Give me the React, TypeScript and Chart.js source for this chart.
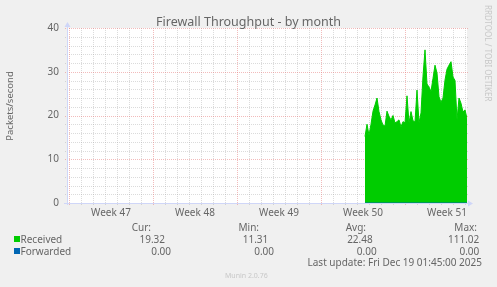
import React, { useEffect, useRef } from 'react';
import { Chart, registerables } from 'chart.js';

Chart.register(...registerables);

// ---- data ----
const chartTitle = 'Firewall Throughput - by month';
const yAxisTitle = 'Packets/second';
const watermark = 'RRDTOOL / TOBI OETIKER';
const lastUpdate = 'Last update: Fri Dec 19 01:45:00 2025';
const muninVersion = 'Munin 2.0.76';

const weekLabels = ['Week 47', 'Week 48', 'Week 49', 'Week 50', 'Week 51'];
const weekStartDays = [0, 7, 14, 21, 28];
const yTickValues = [0, 10, 20, 30, 40];

// samples every 4 hours, starting at day 24.667 of the window
const sampleStartDay = 24.667;
const sampleStepDays = 1 / 6;
const receivedValues = [
  15.2, 18.0, 15.5, 18.0, 21.0, 22.4, 24.0, 20.9, 19.0, 17.8,
  17.6, 21.0, 19.8, 19.0, 20.0, 18.3, 18.6, 19.0, 17.4, 18.6,
  18.3, 24.5, 18.3, 20.9, 18.8, 18.5, 25.8, 18.3, 20.6, 29.0,
  35.0, 27.2, 26.5, 25.5, 28.5, 31.5, 29.7, 24.3, 23.0, 24.0,
  28.1, 30.6, 31.5, 32.3, 28.8, 28.0, 19.0, 24.0, 22.8, 20.8,
  21.3, 19.3,
];
const forwardedValues = [
  0, 0, 0, 0, 0, 0, 0, 0, 0, 0,
  0, 0, 0, 0, 0, 0, 0, 0, 0, 0,
  0, 0, 0, 0, 0, 0, 0, 0, 0, 0,
  0, 0, 0, 0, 0, 0, 0, 0, 0, 0,
  0, 0, 0, 0, 0, 0, 0, 0, 0, 0,
  0, 0,
];

const seriesNames = ['Received', 'Forwarded'];
const seriesColors = ['#00cc00', '#0066b3'];
const curValues = ['19.32', '0.00'];
const minValues = ['11.31', '0.00'];
const avgValues = ['22.48', '0.00'];
const maxValues = ['111.02', '0.00'];
const statHeaders = ['Cur:', 'Min:', 'Avg:', 'Max:'];

// ---- layout / style ----
const W = 497;
const H = 287;
const FONT = '"Noto Sans", "DejaVu Sans", sans-serif';
const TEXT = '#666666';
const X_MIN = -1 / 6;
const X_MAX = 33 + 1 / 6;

const headerRight = [151, 259, 366, 477];
const rowRight = [
  [165, 268.3, 372.7, 479.3],
  [171, 274, 376.7, 479.3],
];

const muninPlugin = {
  id: 'munin',
  beforeDraw(chart: any) {
    const { ctx, chartArea } = chart;
    const { left, right, top, bottom } = chartArea;
    const xs = chart.scales.x;
    const ys = chart.scales.y;
    ctx.save();
    ctx.fillStyle = '#f0f0f0';
    ctx.fillRect(0, 0, chart.width, chart.height);
    ctx.fillStyle = '#ffffff';
    ctx.fillRect(left, top, right - left, bottom - top);

    ctx.lineWidth = 1;
    ctx.setLineDash([1, 1]);
    const minor = 'rgba(160,160,160,0.38)';
    // horizontal grid (every 2, major every 10)
    for (let v = 0; v <= 40; v += 2) {
      if (v % 10 === 0) continue;
      const y = Math.round(ys.getPixelForValue(v)) + 0.5;
      ctx.strokeStyle = minor;
      ctx.beginPath();
      ctx.moveTo(left - 2, y);
      ctx.lineTo(right + 1, y);
      ctx.stroke();
    }
    // vertical minor grid (every day)
    for (let d = 0; d <= 33; d++) {
      if (d % 7 === 0) continue;
      const x = Math.round(xs.getPixelForValue(d)) + 0.5;
      ctx.strokeStyle = minor;
      ctx.beginPath();
      ctx.moveTo(x, top);
      ctx.lineTo(x, bottom + 2);
      ctx.stroke();
    }
    // major grid
    ctx.strokeStyle = 'rgba(230,120,120,0.5)';
    for (const v of yTickValues) {
      const y = Math.round(ys.getPixelForValue(v)) + 0.5;
      ctx.beginPath();
      ctx.moveTo(left - 2, y);
      ctx.lineTo(right + 1, y);
      ctx.stroke();
    }
    for (const d of weekStartDays) {
      const x = Math.round(xs.getPixelForValue(d)) + 0.5;
      ctx.beginPath();
      ctx.moveTo(x, top);
      ctx.lineTo(x, bottom + 2);
      ctx.stroke();
    }
    ctx.restore();
  },
  afterDatasetsDraw(chart: any) {
    const { ctx, chartArea } = chart;
    const { left, right, top, bottom } = chartArea;
    ctx.save();
    ctx.setLineDash([]);
    ctx.strokeStyle = '#cfd6f8';
    ctx.fillStyle = '#cfd6f8';
    ctx.lineWidth = 1;
    const ax = left + 0.5;
    const ay = bottom + 0.5;
    ctx.beginPath();
    ctx.moveTo(left - 3, ay);
    ctx.lineTo(right + 2, ay);
    ctx.stroke();
    ctx.beginPath();
    ctx.moveTo(ax, bottom + 2);
    ctx.lineTo(ax, top - 2);
    ctx.stroke();
    // arrows
    ctx.beginPath();
    ctx.moveTo(right + 1, ay - 3);
    ctx.lineTo(right + 6, ay);
    ctx.lineTo(right + 1, ay + 3);
    ctx.closePath();
    ctx.fill();
    ctx.beginPath();
    ctx.moveTo(ax - 3, top - 1);
    ctx.lineTo(ax, top - 6);
    ctx.lineTo(ax + 3, top - 1);
    ctx.closePath();
    ctx.fill();
    ctx.restore();
  },
  afterDraw(chart: any) {
    const { ctx } = chart;
    ctx.save();
    ctx.fillStyle = TEXT;
    // title
    ctx.font = `12.5px ${FONT}`;
    ctx.textAlign = 'center';
    ctx.textBaseline = 'alphabetic';
    ctx.fillText(chartTitle, 248.5, 26);
    // y title
    ctx.save();
    ctx.translate(10.5, 106);
    ctx.rotate(-Math.PI / 2);
    ctx.font = `9.5px ${FONT}`;
    ctx.textAlign = 'center';
    ctx.textBaseline = 'middle';
    ctx.fillText(yAxisTitle, 0, 0);
    ctx.restore();
    // watermark
    ctx.save();
    ctx.translate(487, 5);
    ctx.rotate(Math.PI / 2);
    ctx.fillStyle = '#c8c8c8';
    ctx.font = `8px ${FONT}`;
    ctx.textAlign = 'left';
    ctx.textBaseline = 'middle';
    ctx.fillText(watermark, 0, 0);
    ctx.restore();
    // legend
    ctx.font = `10px ${FONT}`;
    ctx.textBaseline = 'alphabetic';
    ctx.textAlign = 'right';
    statHeaders.forEach((h, i) => ctx.fillText(h, headerRight[i], 230.5));
    seriesNames.forEach((name, r) => {
      const base = 242.5 + r * 12;
      ctx.fillStyle = seriesColors[r];
      ctx.fillRect(14, base - 6.5, 6, 6);
      ctx.fillStyle = TEXT;
      ctx.textAlign = 'left';
      ctx.fillText(name, 20.5, base);
      ctx.textAlign = 'right';
      const vals = [curValues[r], minValues[r], avgValues[r], maxValues[r]];
      vals.forEach((v, i) => ctx.fillText(v, rowRight[r][i], base));
    });
    ctx.textAlign = 'right';
    ctx.fillText(lastUpdate, 482, 265.5);
    ctx.fillStyle = '#c8c8c8';
    ctx.font = `7px ${FONT}`;
    ctx.textAlign = 'left';
    ctx.fillText(muninVersion, 225, 277.5);
    ctx.restore();
  },
};

export default function App() {
  const ref = useRef<HTMLCanvasElement | null>(null);
  useEffect(() => {
    if (!ref.current) return;
    const chart = new Chart(ref.current, {
      type: 'line',
      data: {
        datasets: [
          {
            label: seriesNames[1],
            data: forwardedValues.map((v, i) => ({ x: sampleStartDay + i * sampleStepDays, y: v })),
            borderColor: seriesColors[1],
            borderWidth: 1,
            pointRadius: 0,
            fill: false,
            tension: 0,
          },
          {
            label: seriesNames[0],
            data: receivedValues.map((v, i) => ({ x: sampleStartDay + i * sampleStepDays, y: v })),
            borderColor: seriesColors[0],
            backgroundColor: seriesColors[0],
            borderWidth: 1,
            pointRadius: 0,
            fill: 'origin',
            tension: 0,
          },
        ],
      },
      options: {
        animation: false,
        responsive: false,
        devicePixelRatio: 1,
        layout: { padding: { left: 0, right: 30, top: 28, bottom: 0 } },
        plugins: { legend: { display: false }, tooltip: { enabled: false }, title: { display: false } },
        scales: {
          x: {
            type: 'linear',
            min: X_MIN,
            max: X_MAX,
            grid: { display: false, drawTicks: false },
            border: { display: false },
            afterFit: (s: any) => { s.height = 84; },
            afterBuildTicks: (s: any) => { s.ticks = weekStartDays.map((d) => ({ value: d + 3.5 })); },
            ticks: {
              autoSkip: false,
              maxRotation: 0,
              padding: 4,
              color: TEXT,
              font: { family: FONT, size: 10 },
              callback: (_v: any, i: number) => weekLabels[i],
            },
          },
          y: {
            type: 'linear',
            min: 0,
            max: 40,
            grid: { display: false, drawTicks: false },
            border: { display: false },
            afterFit: (s: any) => { s.width = 67; },
            afterBuildTicks: (s: any) => { s.ticks = yTickValues.map((v) => ({ value: v })); },
            ticks: {
              padding: 8,
              color: TEXT,
              font: { family: FONT, size: 10 },
            },
          },
        },
      },
      plugins: [muninPlugin],
    });
    return () => chart.destroy();
  }, []);
  return (
    <div style={{ position: 'fixed', left: 0, top: 0, width: W, height: H, background: '#f0f0f0' }}>
      <canvas ref={ref} width={W} height={H} style={{ display: 'block', width: W, height: H }} />
    </div>
  );
}
